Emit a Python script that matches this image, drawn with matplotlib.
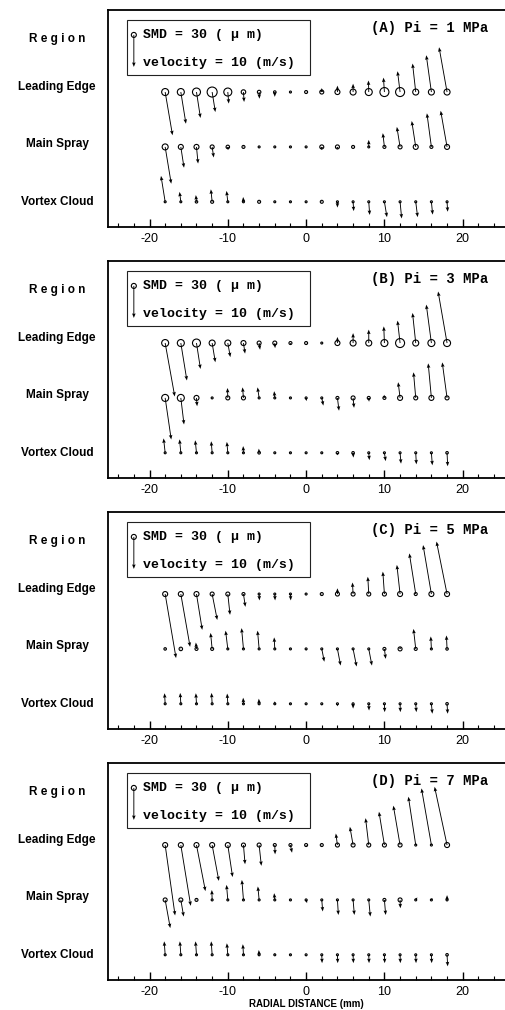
import numpy as np
import matplotlib.pyplot as plt
from matplotlib.patches import Rectangle
from matplotlib.ticker import MultipleLocator
from matplotlib.transforms import blended_transform_factory

plt.rcParams['axes.unicode_minus'] = False

# radial measurement stations (mm)
x_pos = [-18, -16, -14, -12, -10, -8, -6, -4, -2, 0, 2, 4, 6, 8, 10, 12, 14, 16, 18]
regions = ["Leading Edge", "Main Spray", "Vortex Cloud"]
panel_tags = ["A", "B", "C", "D"]
pressures = [1, 3, 5, 7]

# SMD (um), radial velocity u (m/s), axial velocity v (m/s); rows = LE, MS, VC
smd_A = [[42, 42, 48, 60, 48, 27, 21, 15, 12, 18, 24, 30, 36, 42, 54, 54, 36, 36, 36],
         [36, 30, 30, 24, 21, 18, 12, 12, 12, 12, 24, 24, 18, 12, 18, 24, 30, 18, 30],
         [12, 12, 15, 18, 12, 12, 18, 12, 12, 12, 18, 12, 12, 12, 12, 12, 12, 12, 12]]
u_A = [[2.3, 1.6, 1.25, 1.0, 0.3, 0.2, 0.1, 0, 0, 0, 0, 0, 0, -0.1, -0.3, -0.8, -1.0, -1.6, -2.5],
       [1.9, 1.0, 0.5, 0.5, 0.1, 0, 0, 0, 0, 0, 0, 0, 0, 0, -0.5, -1.0, -1.25, -1.4, -2.0],
       [-1.3, -0.4, -0.2, -0.4, -0.4, -0.1, 0, 0, 0, 0, 0, 0, 0.2, 0.3, 0.8, 0.5, 0.6, 0.4, 0.2]]
v_A = [[-13.5, -9.9, -8.1, -6.25, -3.6, -3.1, -2.1, -1.5, -0.3, 0, 1.25, 2.0, 2.6, 3.6, 4.5, 6.5, 8.9, 11.5, 14.0],
       [-11.5, -6.5, -5.2, -3.3, -1.0, 0, 0, 0, 0, -0.3, -1.0, -0.8, 0, 2.2, 4.3, 6.25, 8.1, 10.5, 11.3],
       [8.1, 3.1, 2.1, 3.9, 3.4, 1.5, 0, 0, 0, 0, 0, -1.8, -2.9, -4.1, -4.8, -5.2, -4.8, -4.0, -3.1]]

smd_B = [[42, 42, 48, 36, 36, 30, 24, 24, 18, 18, 12, 30, 36, 36, 42, 54, 36, 42, 42],
         [42, 42, 30, 12, 24, 24, 12, 12, 12, 12, 12, 18, 24, 18, 18, 30, 24, 30, 24],
         [12, 12, 12, 12, 12, 12, 15, 12, 12, 12, 12, 15, 15, 12, 12, 12, 12, 12, 15]]
u_B = [[3.0, 1.9, 1.25, 1.0, 0.8, 0.5, 0.3, 0.1, 0, 0, 0, 0, 0, 0, -0.2, -0.8, -1.0, -1.6, -2.8],
       [1.9, 1.0, 0.2, 0, -0.1, -0.3, -0.5, -0.2, 0, 0.1, 0.5, 0.5, 0.3, 0.1, -0.1, -0.6, -0.7, -1.0, -1.5],
       [-0.5, -0.4, -0.4, -0.3, -0.3, -0.1, -0.1, 0, 0, 0, 0, 0, 0.1, 0.2, 0.4, 0.3, 0.2, 0.3, 0.2]]
v_B = [[-16.7, -11.7, -8.1, -6.0, -4.4, -3.3, -2.1, -1.6, -0.5, 0, 0, 1.9, 3.1, 4.2, 5.2, 7.0, 9.4, 12.0, 16.1],
       [-13.0, -8.3, -2.6, 0, 3.1, 3.3, 3.3, 2.1, 0, -1.0, -2.4, -4.0, -3.1, -1.2, 1.0, 4.9, 8.0, 10.8, 11.1],
       [4.5, 4.2, 3.9, 3.6, 3.4, 2.1, 1.3, 0, 0, 0, 0, -0.8, -1.5, -2.3, -2.6, -3.4, -3.6, -3.9, -4.2]]

smd_C = [[30, 30, 30, 24, 24, 18, 12, 12, 12, 12, 18, 24, 24, 24, 24, 30, 18, 30, 30],
         [15, 21, 18, 18, 12, 12, 12, 12, 12, 12, 12, 12, 12, 12, 18, 24, 18, 12, 15],
         [12, 12, 12, 12, 12, 12, 12, 12, 12, 12, 12, 12, 12, 12, 12, 12, 12, 12, 15]]
u_C = [[3.4, 2.9, 1.8, 1.6, 0.7, 0.6, 0.1, 0.1, 0.1, 0, 0, 0, -0.2, -0.3, -0.5, -1.0, -2.0, -2.6, -3.3],
       [0, 0, -0.2, -0.5, -0.7, -0.6, -0.5, -0.2, 0, 0.1, 0.8, 1.0, 1.1, 1.0, 0.4, 0, -0.7, -0.2, -0.2],
       [-0.2, -0.2, -0.2, -0.2, -0.2, -0.1, -0.1, 0, 0, 0, 0, 0, 0, 0.1, 0.1, 0.1, 0.2, 0.3, 0.2]]
v_C = [[-20.0, -16.5, -11.2, -8.1, -6.5, -4.0, -2.0, -2.0, -2.0, 0, 0, 1.8, 3.6, 5.4, 7.0, 9.1, 12.7, 15.3, 16.4],
       [0, 0, 2.0, 5.0, 5.7, 6.5, 5.7, 3.6, 0, -0.5, -4.0, -5.2, -5.5, -5.2, -3.1, 0.8, 6.25, 3.9, 4.2],
       [3.3, 3.4, 3.3, 3.4, 3.2, 1.9, 1.6, 0.8, 0, 0, -0.5, -0.8, -1.5, -2.1, -2.6, -2.6, -2.6, -3.1, -3.1]]

smd_D = [[30, 30, 30, 30, 30, 24, 24, 18, 18, 18, 18, 24, 24, 24, 24, 24, 12, 12, 30],
         [24, 24, 18, 12, 12, 12, 12, 12, 12, 12, 12, 12, 12, 12, 18, 24, 12, 12, 12],
         [12, 12, 12, 12, 12, 12, 12, 12, 12, 12, 12, 12, 12, 12, 12, 12, 12, 12, 15]]
u_D = [[3.1, 3.1, 2.8, 2.1, 1.5, 0.5, 0.7, 0.1, 0.5, 0, 0, -0.5, -1.0, -1.0, -1.7, -2.1, -2.3, -3.1, -3.9],
       [1.6, 0.9, 0, -0.1, -0.4, -0.5, -0.4, -0.2, 0, 0.3, 0.3, 0.3, 0.4, 0.5, 0.4, 0.1, 0.5, 0.3, 0],
       [-0.3, -0.3, -0.3, -0.3, -0.3, -0.2, -0.1, 0, 0, 0, 0.1, 0.1, 0.1, 0.1, 0.1, 0.1, 0.1, 0.1, 0.2]]
v_D = [[-22.0, -19.0, -14.4, -11.2, -10.0, -6.0, -6.5, -2.9, -2.4, -0.5, 0, 3.6, 5.7, 8.4, 10.4, 12.3, 15.1, 17.7, 18.2],
       [-8.8, -5.2, 0, 3.1, 4.7, 6.25, 4.2, 2.1, 0, -1.0, -3.6, -4.7, -4.7, -5.2, -4.7, -2.6, 0.8, 0.6, 1.5],
       [4.2, 4.2, 4.2, 4.2, 3.6, 3.3, 1.5, 0.5, 0, -0.5, -2.6, -2.6, -2.6, -2.6, -2.6, -2.6, -2.6, -2.6, -3.6]]

smd_all = [smd_A, smd_B, smd_C, smd_D]
u_all = [u_A, u_B, u_C, u_D]
v_all = [v_A, v_B, v_C, v_D]

legend_smd = 30
legend_vel = 10

row_y = [2.41, 1.43, 0.45]
label_dy = [0.09, 0.05, 0.0]
PX_PER_MS = 3.2        # arrow length, pixels per m/s
PX_PER_UM = 1 / 6.0    # circle diameter, pixels per micron

MONO = 'Liberation Mono'
SANS = 'Liberation Sans'


def marker_size(smd):
    d_px = np.asarray(smd, dtype=float) * PX_PER_UM
    return (d_px * 72 / 100) ** 2


def draw_vectors(ax, xs, ys, u, v, smd):
    ax.quiver(xs, ys, u, v, angles='uv', scale_units='dots', scale=1 / PX_PER_MS,
              units='dots', width=0.9, headwidth=4, headlength=5, headaxislength=4.5,
              color='k', pivot='tail', zorder=2)
    ax.scatter(xs, ys, s=marker_size(smd), facecolors='none', edgecolors='k',
               linewidths=0.8, zorder=3)


fig = plt.figure(figsize=(5.05, 10.10), dpi=100)
bottoms_px = [227, 478, 729, 980]

for k in range(4):
    ax = fig.add_axes([108 / 505, 1 - bottoms_px[k] / 1010, 397 / 505, 217 / 1010])
    ax.set_xlim(-25.3, 25.4)
    ax.set_ylim(0, 3.875)

    for r in range(3):
        ys = [row_y[r]] * len(x_pos)
        draw_vectors(ax, x_pos, ys, u_all[k][r], v_all[k][r], smd_all[k][r])

    # legend box
    ax.add_patch(Rectangle((0.048, 0.70), 0.461, 0.254, transform=ax.transAxes,
                           fill=False, lw=0.8, ec='#222222', zorder=4))
    draw_vectors(ax, [-22.0], [3.43], [0], [-legend_vel], [legend_smd])
    ax.text(0.088, 0.885, f"SMD = {legend_smd} ( \u03bc m)", transform=ax.transAxes,
            family=[MONO, 'DejaVu Sans Mono'], weight='bold', size=9.5, va='center')
    ax.text(0.088, 0.756, f"velocity = {legend_vel} (m/s)", transform=ax.transAxes,
            family=MONO, weight='bold', size=9.5, va='center')

    ax.text(0.957, 0.917, f"({panel_tags[k]}) Pi = {pressures[k]} MPa", transform=ax.transAxes,
            family=MONO, weight='bold', size=10, ha='right', va='center')

    # region labels on the left
    tr = blended_transform_factory(ax.transAxes, ax.transData)
    ax.text(-0.128, 3.36, "R e g i o n", transform=tr, family=SANS, weight='bold',
            size=8.5, ha='center', va='center')
    for r in range(3):
        ax.text(-0.128, row_y[r] + label_dy[r], regions[r], transform=tr, family=SANS,
                weight='bold', size=8.5, ha='center', va='center')

    ax.set_xticks([-20, -10, 0, 10, 20])
    ax.xaxis.set_minor_locator(MultipleLocator(2))
    ax.set_yticks([])
    ax.tick_params(axis='x', which='major', direction='in', length=6, width=1.0,
                   labelsize=9, pad=4)
    ax.tick_params(axis='x', which='minor', direction='in', length=3, width=0.8)
    for lab in ax.get_xticklabels():
        lab.set_family(SANS)
    ax.spines['right'].set_visible(False)
    for side in ['left', 'bottom', 'top']:
        ax.spines[side].set_linewidth(1.3)

    if k == 3:
        ax.set_xlabel("RADIAL DISTANCE (mm)", family=SANS, weight='bold', size=7, labelpad=1)

fig.savefig('out.png', dpi=100)
